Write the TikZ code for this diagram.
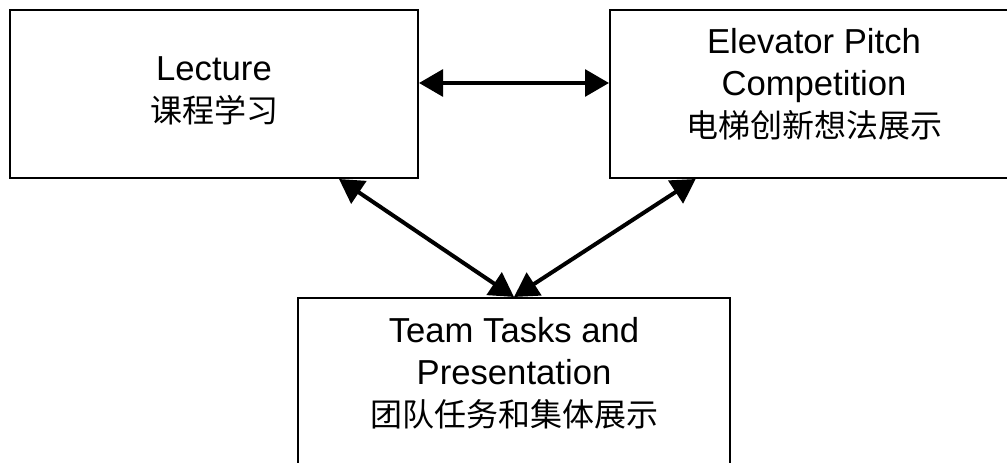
\documentclass[tikz,border=0pt]{standalone}
\usepackage{fontspec}
\setmainfont{Liberation Sans}
\newfontfamily\cjk{Noto Sans CJK SC}
\usetikzlibrary{arrows.meta}

\begin{document}
\begin{tikzpicture}[]
	%\draw[help lines] (0,0) grid (20,-10);
	\useasboundingbox (0,0) rectangle (755.25pt,-347.25pt);
	\clip (0,0) rectangle (755.25pt,-347.25pt);
	
	\tikzstyle{cbox} = [rectangle,draw,line width=1.5pt,fill=white,align=center,inner sep=0pt,minimum height=126pt,font=\fontsize{26}{31.5}\selectfont]
	\tikzstyle{cedge} = [{Triangle[length=18pt,width=20pt]}-{Triangle[length=18pt,width=20pt]},line width=3pt]
	
	\node[cbox,minimum width=306pt,text depth=7pt] (lec) at (160.5pt,-70.5pt) {Lecture\\{\cjk\fontsize{24}{31.5}\selectfont 课程学习}};
	\node[cbox,minimum width=306pt,text depth=16pt] (pitch) at (610.5pt,-70.5pt) {Elevator Pitch\\Competition\\{\cjk\fontsize{24}{31.5}\selectfont 电梯创新想法展示}};
	\node[cbox,minimum width=324pt,text depth=15pt] (team) at (385.5pt,-286.5pt) {Team Tasks and\\Presentation\\{\cjk\fontsize{24}{31.5}\selectfont 团队任务和集体展示}};
	
	\draw[cedge] ([yshift=8.25pt]lec.east) -- ([yshift=8.25pt]pitch.west);
	\draw[cedge] ([xshift=-60pt]lec.south east) -- (team.north);
	\draw[cedge] ([xshift=65pt]pitch.south west) -- (team.north);

\end{tikzpicture}
\end{document}
